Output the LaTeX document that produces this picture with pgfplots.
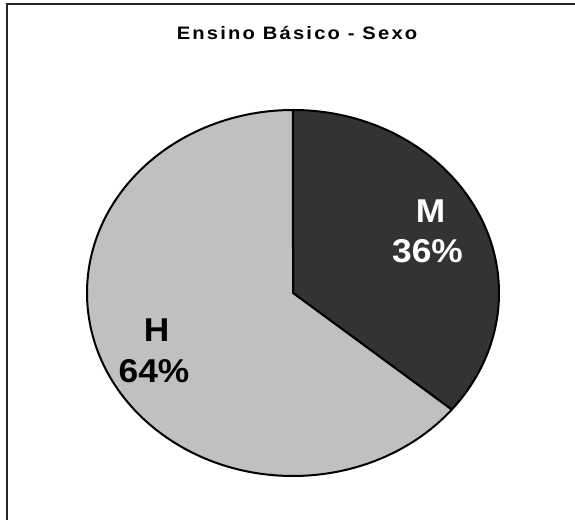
\documentclass[border=0pt]{standalone}
\usepackage{pgfplots}
\usepackage{pgfplotstable}
\pgfplotsset{compat=1.18}
\usetikzlibrary{calc}
\usepackage{fontspec}
\setmainfont{Liberation Sans}
\newfontface\titlefont[LetterSpace=11]{Liberation Sans Bold}
\definecolor{mdark}{HTML}{333333}
\definecolor{hlight}{HTML}{C0C0C0}
\pgfplotstableread{
sexo valor
M 36
H 64
}\piedata
\begin{document}
\begin{tikzpicture}
\pgfplotstablegetelem{0}{valor}\of\piedata \let\valM\pgfplotsretval
\pgfplotstablegetelem{1}{valor}\of\piedata \let\valH\pgfplotsretval
\pgfmathsetmacro{\tot}{\valM+\valH}
\pgfmathsetmacro{\angA}{90}
\pgfmathsetmacro{\angB}{90-\valM/\tot*360}
\pgfmathsetmacro{\angC}{\angB-\valH/\tot*360}
\begin{axis}[
  scale only axis, width=575pt, height=519pt,
  xmin=0, xmax=575, ymin=0, ymax=519,
  hide axis, clip=false,
]
% frame (top and left)
\draw[black!85, line width=2pt] (axis cs:7,-2) -- (axis cs:7,515) -- (axis cs:577,515);
% slices
\filldraw[fill=mdark, draw=black, line width=2pt, line join=round]
  (axis cs:293,226) -- ($(axis cs:293,226)+(\angA:206pt and 183pt)$)
  arc[start angle=\angA, end angle=\angB, x radius=206pt, y radius=183pt] -- cycle;
\filldraw[fill=hlight, draw=black, line width=2pt, line join=round]
  (axis cs:293,226) -- ($(axis cs:293,226)+(\angB:206pt and 183pt)$)
  arc[start angle=\angB, end angle=\angC, x radius=206pt, y radius=183pt] -- cycle;
% labels
\tikzset{lbl/.style={anchor=base, font=\fontsize{33}{33}\selectfont\bfseries, inner sep=0pt, xscale=1.07}}
\node[lbl, text=white] at (axis cs:430.5,296) {M};
\node[lbl, text=white] at (axis cs:427.5,256) {\valM\%};
\node[lbl, text=black] at (axis cs:156.5,177) {H};
\node[lbl, text=black] at (axis cs:154,136) {\valH\%};
% title
\node[anchor=base, font=\titlefont\fontsize{18}{18}\selectfont, inner sep=0pt, xscale=1.12] at (axis cs:297,479) {Ensino Básico - Sexo};
\end{axis}
\pgfresetboundingbox
\useasboundingbox (current axis.south west) rectangle (current axis.north east);
\end{tikzpicture}
\end{document}
